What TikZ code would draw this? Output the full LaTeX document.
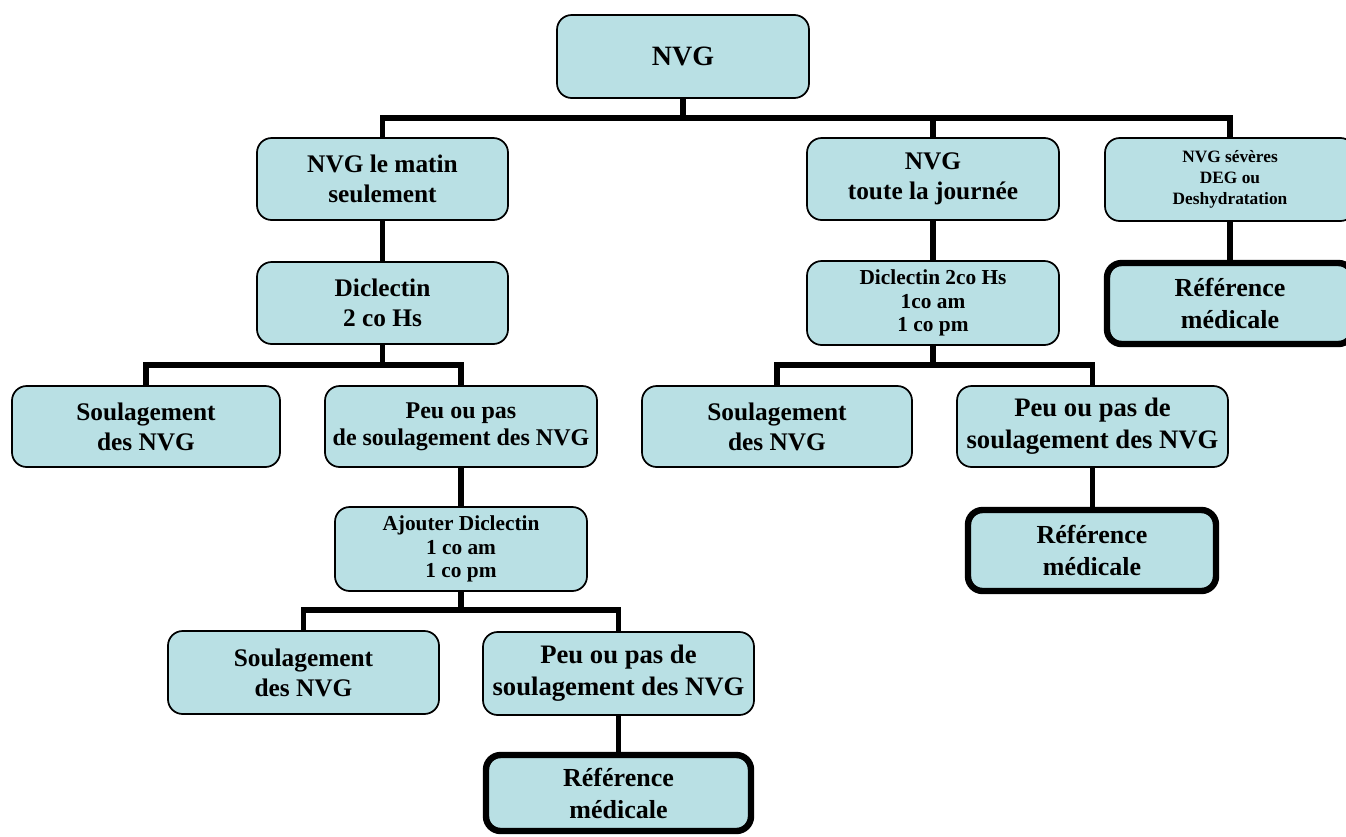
\documentclass[tikz,border=0pt]{standalone}
\usepackage{fontspec}
\setmainfont{Liberation Serif}
\definecolor{boxfill}{RGB}{185,224,228}
\tikzset{
  box/.style={draw=black, fill=boxfill, rounded corners=11pt, line width=1.3pt, align=center, inner sep=0pt},
  refbox/.style={box, line width=4.8pt},
  conn/.style={line width=4.2pt, draw=black},
  fA/.style={font=\fontsize{19}{22.5}\selectfont\bfseries},
  fR/.style={font=\fontsize{19.5}{24}\selectfont\bfseries},
  fN/.style={font=\fontsize{21}{23.5}\selectfont\bfseries},
  fS/.style={font=\fontsize{18}{20.5}\selectfont\bfseries},
  fL/.style={font=\fontsize{20}{24}\selectfont\bfseries},
  fD/.style={font=\fontsize{16}{17.8}\selectfont\bfseries},
  fT/.style={font=\fontsize{13}{16}\selectfont\bfseries},
}
\newcommand{\bx}[7]{\node[#6, minimum width={(#4-#2)*0.75pt}, minimum height={(#5-#3)*0.75pt}] (#1) at ({(#2+#4)/2},{(#3+#5)/2}) {#7};}
\begin{document}
\begin{tikzpicture}[x=0.75pt,y=-0.75pt]
\useasboundingbox (0,0) rectangle (1346,836);
\coordinate (b1) at (0,118);
\coordinate (b2) at (0,365);
\coordinate (b3) at (0,610);
% boxes
\bx{nvg}{557}{15}{809}{98}{box,fN}{NVG}
\bx{matin}{257}{138}{508}{220}{box,fA}{NVG le matin\\seulement}
\bx{jour}{807}{138}{1059}{220}{box,fA}{NVG\\toute la journée}
\bx{sev}{1105}{138}{1355}{221}{box,fT}{NVG sévères\\DEG ou\\Deshydratation}
\bx{dic}{257}{262}{508}{344}{box,fA}{Diclectin\\2 co Hs}
\bx{dicb}{807}{261}{1059}{345}{box,fD}{Diclectin 2co Hs\\1co am\\1 co pm}
\bx{refa}{1107}{263}{1353}{344}{refbox,fR}{Référence\\médicale}
\bx{soula}{12}{386}{280}{467}{box,fA}{Soulagement\\des NVG}
\bx{peua}{325}{386}{597}{467}{box,fS}{Peu ou pas\\de soulagement des NVG}
\bx{soulb}{642}{386}{912}{467}{box,fA}{Soulagement\\des NVG}
\bx{peub}{957}{386}{1228}{467}{box,fL}{Peu ou pas de\\soulagement des NVG}
\bx{ajout}{335}{507}{587}{591}{box,fD}{Ajouter Diclectin\\1 co am\\1 co pm}
\bx{refb}{968}{510}{1216}{591}{refbox,fR}{Référence\\médicale}
\bx{soulc}{168}{631}{439}{714}{box,fA}{Soulagement\\des NVG}
\bx{peuc}{483}{632}{754}{715}{box,fL}{Peu ou pas de\\soulagement des NVG}
\bx{refc}{486}{755}{751}{831}{refbox,fR}{Référence\\médicale}
% connectors
\draw[conn] (nvg.south) -- (nvg.south |- b1) -| (matin.north);
\draw[conn] (nvg.south) -- (nvg.south |- b1) -| (jour.north);
\draw[conn] (nvg.south) -- (nvg.south |- b1) -| (sev.north);
\draw[conn] (matin.south) -- (matin.south |- dic.north);
\draw[conn] (jour.south) -- (jour.south |- dicb.north);
\draw[conn] (sev.south) -- (sev.south |- refa.north);
\draw[conn] (dic.south) -- (dic.south |- b2) -| (soula.north);
\draw[conn] (dic.south) -- (dic.south |- b2) -| (peua.north);
\draw[conn] (dicb.south) -- (dicb.south |- b2) -| (soulb.north);
\draw[conn] (dicb.south) -- (dicb.south |- b2) -| (peub.north);
\draw[conn] (peua.south) -- (peua.south |- ajout.north);
\draw[conn] (peub.south) -- (peub.south |- refb.north);
\draw[conn] (ajout.south) -- (ajout.south |- b3) -| (soulc.north);
\draw[conn] (ajout.south) -- (ajout.south |- b3) -| (peuc.north);
\draw[conn] (peuc.south) -- (peuc.south |- refc.north);
\end{tikzpicture}
\end{document}
